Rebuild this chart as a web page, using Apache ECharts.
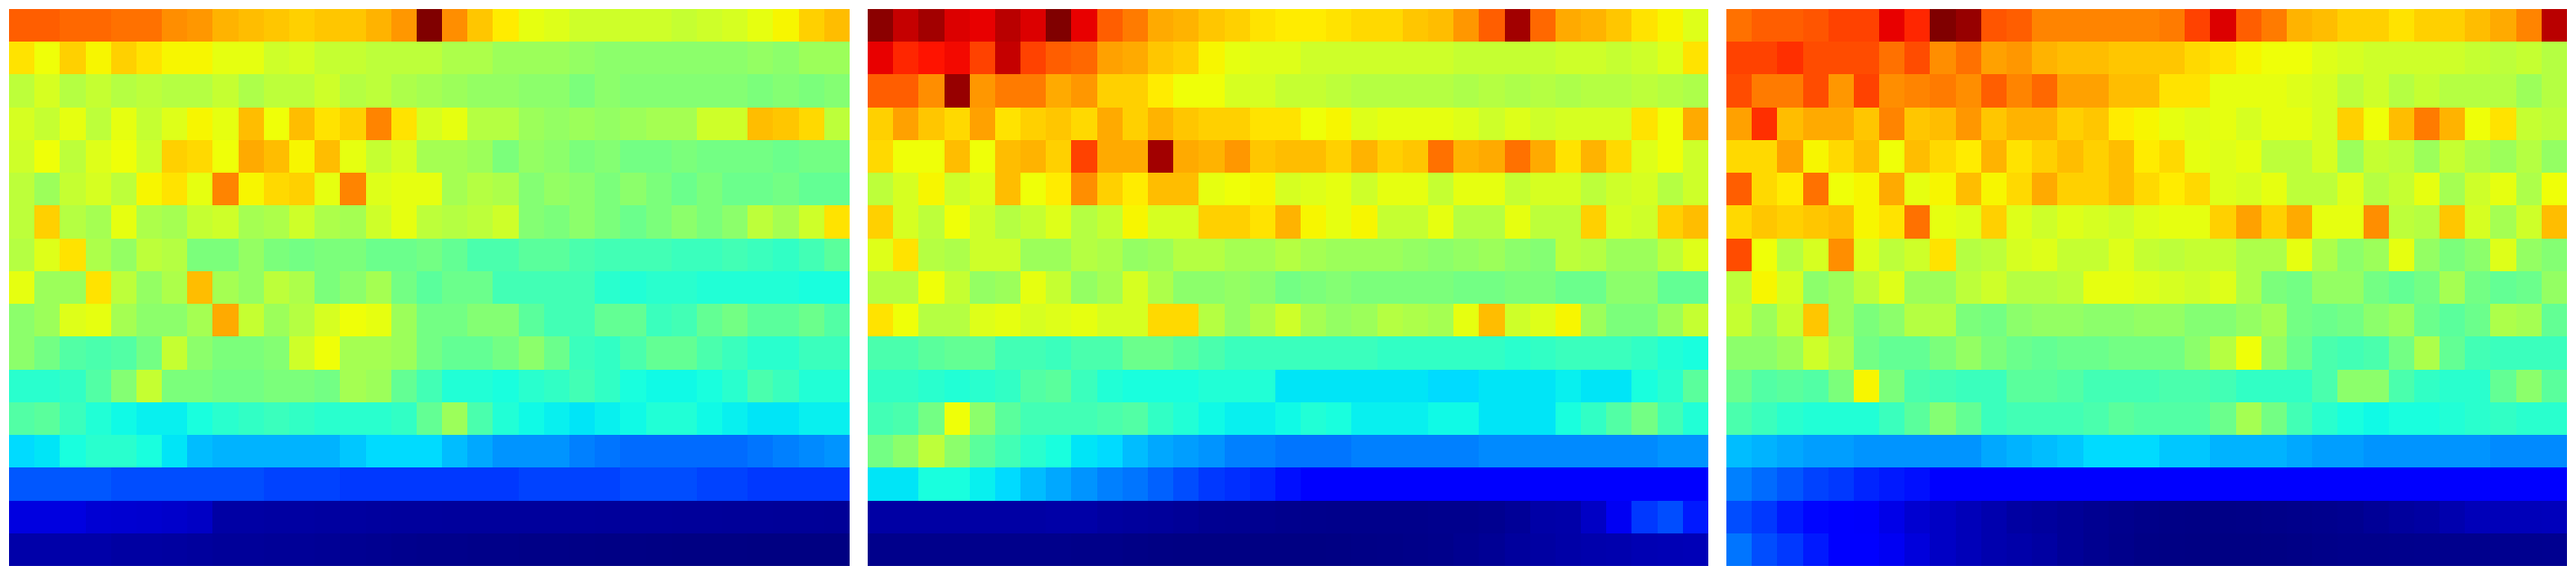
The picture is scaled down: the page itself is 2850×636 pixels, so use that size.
<!DOCTYPE html>
<html><head><meta charset="utf-8">
<style>html,body{margin:0;padding:0;background:#fff}#c{width:2850px;height:636px}</style>
<script src="https://cdn.jsdelivr.net/npm/echarts@6/dist/echarts.min.js"></script>
</head><body><div id="c"></div>
<script>
var panelA = [
[81,81,80,80,79,79,76,75,72,71,70,69,70,70,72,75,100,76,70,66,63,62,60,60,60,60,59,60,61,63,65,69,71],
[67,64,69,65,69,67,65,65,63,63,60,61,59,59,58,58,58,56,56,54,54,54,53,52,52,52,52,52,52,53,52,54,54],
[58,61,57,59,57,58,57,57,59,56,58,58,60,57,58,56,55,54,53,53,52,52,50,52,51,51,51,51,51,50,51,50,51],
[61,59,63,58,63,59,62,65,63,71,64,71,67,69,77,67,61,63,57,57,54,53,54,53,54,55,55,60,60,71,70,68,58],
[60,64,58,62,64,60,69,68,64,73,71,65,71,63,59,61,55,55,54,50,53,52,50,51,49,49,50,49,49,49,48,49,49],
[58,54,59,61,58,65,67,63,77,65,68,69,63,77,62,63,63,55,57,56,51,53,52,50,52,50,48,50,48,48,49,47,47],
[58,69,57,55,63,56,55,59,60,55,56,60,56,55,60,63,58,57,58,60,51,50,52,50,48,50,52,50,52,58,55,60,67],
[57,62,67,56,53,58,57,50,50,53,50,49,50,50,48,48,49,47,44,44,46,46,44,43,43,43,42,42,43,42,41,43,46],
[63,54,54,67,58,53,56,71,55,53,58,56,50,52,55,49,46,48,48,43,43,43,43,40,39,40,40,39,39,39,39,38,38],
[52,54,62,63,55,52,52,55,73,59,54,57,61,64,63,54,49,49,51,51,46,43,43,47,47,42,43,47,49,46,46,48,45],
[52,49,45,44,45,49,59,52,50,50,51,60,64,55,55,54,49,47,47,49,52,48,42,41,44,47,47,44,42,40,40,42,42],
[40,40,41,45,51,59,50,50,49,49,50,50,49,55,54,47,43,39,39,38,40,41,43,41,38,37,37,38,40,44,42,39,39],
[45,46,42,39,37,36,36,38,40,41,42,41,40,40,40,41,47,54,44,39,37,36,35,36,37,39,39,37,36,35,35,36,36],
[34,35,38,40,40,38,35,31,30,30,30,30,30,32,34,34,34,31,29,27,27,27,25,24,23,23,23,23,23,24,25,26,27],
[21,21,21,21,20,20,20,20,20,20,19,19,19,18,18,18,18,18,18,18,19,19,19,19,20,20,20,19,19,18,18,18,18],
[8.3,8.3,8.3,7.2,7,6.8,6.5,6,3.2,3.2,3,3,2.8,2.8,2.7,2.6,2.6,2.5,2.5,2.5,2.5,2.5,2.5,2.4,2.4,2.4,2.3,2.3,2.2,2.2,2.1,2.1,2],
[3.6,3.6,3.5,3.5,3,3,2.8,2.6,2.2,2.2,2,2,1.8,1.6,1.4,1.2,1,1,0.8,0.8,0.7,0.7,0.6,0.5,0.5,0.4,0.3,0.3,0.3,0.2,0.2,0.2,0.2]
];
var panelB = [
[99,94,97,92,91,95,92,100,91,81,78,73,72,70,69,67,66,66,67,68,68,70,71,75,81,97,80,73,72,70,67,65,62],
[91,87,89,90,84,94,84,81,80,74,73,70,69,65,63,62,62,60,60,60,60,60,60,59,59,59,59,60,60,59,60,62,67],
[81,81,76,98,75,78,78,73,75,69,69,66,64,64,61,61,59,59,58,57,57,57,57,56,57,56,57,56,57,57,58,57,56],
[69,74,70,68,74,67,69,70,68,73,69,72,70,69,69,67,67,64,65,62,63,63,63,62,60,62,60,61,61,61,67,64,73],
[68,64,64,71,64,71,72,69,84,73,73,97,73,72,75,70,71,71,69,72,69,70,79,72,73,79,73,67,72,68,62,64,60],
[58,61,65,60,62,71,64,66,76,69,66,71,71,63,64,65,61,62,63,60,63,63,59,63,63,59,61,61,58,60,61,57,60],
[69,61,58,64,60,57,59,62,57,59,65,61,61,69,69,67,72,65,63,65,59,59,63,57,57,63,58,58,69,61,60,69,71],
[62,67,57,56,60,60,54,54,57,56,53,54,57,57,55,55,57,55,54,54,54,53,52,53,54,52,51,58,57,54,54,58,62],
[57,57,64,59,53,54,63,59,53,55,61,56,52,52,53,52,49,50,51,50,50,50,50,49,49,50,50,48,48,52,52,47,47],
[67,64,57,57,62,63,61,62,63,61,61,68,68,57,53,56,60,55,53,54,57,56,55,63,71,60,62,65,54,50,50,54,59],
[44,44,46,47,47,43,43,42,44,44,48,48,46,44,42,42,42,42,42,42,41,41,41,41,41,40,41,42,42,42,41,39,38],
[41,41,40,39,40,41,45,46,42,39,38,38,38,39,39,39,35,35,35,35,35,35,34,34,35,35,35,36,35,35,38,40,46],
[43,44,49,64,52,46,43,43,43,44,45,41,39,37,36,36,37,39,38,36,36,36,37,37,35,35,35,38,41,45,49,43,39],
[49,52,58,52,46,43,40,38,35,34,31,29,28,27,25,25,24,24,24,25,25,25,25,25,26,26,26,26,26,26,26,27,27],
[35,35,38,38,36,34,31,29,27,25,24,22,20,18,17,16,14,12,12,12,12,12,12,12,12,12,12,12,12,12,12,12,12],
[3.2,3.2,3.2,3.2,3.2,3.2,3.2,3.4,3.4,2.8,2.6,2.4,2,1.6,1.5,1.4,1.2,1.1,1,1,1,1,1.2,1.2,1.4,2,3.4,3.6,6,10,18,20,15],
[1,1,1,1,1,1,1,1,0.8,0.8,0.6,0.4,0.3,0.3,0.3,0.3,0.3,0.3,0.4,0.6,0.7,0.8,1,1.4,1.8,2.6,3,3.4,3.8,4,4.4,4.6,4.8]
];
var panelC = [
[79,81,81,82,84,84,91,87,100,98,82,81,77,77,77,77,77,78,84,92,81,78,72,71,69,69,67,69,69,71,73,77,95],
[84,84,86,83,83,83,79,83,76,79,74,75,72,71,71,70,70,70,68,67,65,64,64,62,61,60,60,60,60,59,58,59,57],
[83,78,78,83,75,84,76,77,78,76,81,77,80,74,74,71,71,67,67,63,63,63,62,61,58,60,57,59,57,57,57,54,57],
[74,86,71,73,73,70,77,70,71,75,70,72,72,69,70,66,65,63,62,63,61,63,63,61,69,64,71,78,72,64,67,59,58],
[68,68,74,65,68,71,64,71,68,66,72,67,69,71,69,71,66,68,63,62,63,58,58,61,54,59,58,54,59,56,54,57,53],
[81,68,66,79,64,65,73,63,65,71,65,68,73,69,69,71,68,66,68,62,61,63,58,58,62,57,59,63,55,60,63,56,64],
[68,70,69,70,71,65,67,79,63,62,69,62,60,62,61,60,62,63,63,69,74,69,73,63,63,76,58,57,70,61,55,60,71],
[83,64,57,61,76,62,58,60,67,57,58,61,62,59,59,62,59,58,59,59,56,56,63,56,52,54,63,53,50,52,62,53,51],
[58,65,61,52,54,58,62,54,54,58,60,57,57,58,63,63,62,61,60,62,56,50,49,53,53,49,47,49,55,49,47,48,53],
[59,54,59,70,54,50,52,57,57,50,49,52,53,53,52,52,53,53,51,51,53,55,49,48,49,52,54,48,46,48,56,55,47],
[52,52,54,60,56,49,47,47,50,53,50,48,47,48,48,49,49,49,52,57,64,53,48,44,43,44,49,56,47,43,42,42,42],
[48,45,46,45,50,65,50,44,43,42,42,46,46,45,43,43,43,44,44,43,41,41,41,44,52,52,44,41,40,40,47,52,46],
[44,42,40,39,39,39,42,46,51,47,42,43,43,43,44,46,45,45,45,48,55,49,43,40,38,37,38,38,39,40,41,40,40],
[31,30,29,28,28,27,27,27,27,27,29,30,31,32,34,34,34,32,32,30,30,30,29,28,28,27,27,27,27,27,26,26,26],
[25,23,21,19,18,16,15,14,12,12,12,12,12,12,12,12,12,12,12,12,12,12,12,12,12,12,12,12,12,12,12,12,12],
[20,18,15,13,11.5,10.8,9,7,6,5,4,3,2.6,2,1.5,1.2,0.8,0.6,0.5,0.6,0.7,0.8,1,1.2,1.4,2,2.6,3,4,5,5,5,5.2],
[24,20,18,15,11.5,11,10,8,6,5,4,3.6,3,2,1.4,1,0.6,0.4,0.3,0.3,0.3,0.4,0.6,0.8,1,1,1.1,1.2,1.2,1.2,1.3,1.3,1.4]
];

function jet(v){
  function seg(p){
    for(var i=1;i<p.length;i++){ if(v<=p[i][0]){ var a=p[i-1],b=p[i]; return a[1]+(b[1]-a[1])*(v-a[0])/(b[0]-a[0]); } }
    return p[p.length-1][1];
  }
  var r=seg([[0,0],[.35,0],[.66,1],[.89,1],[1,.5]]);
  var g=seg([[0,0],[.125,0],[.375,1],[.64,1],[.91,0],[1,0]]);
  var b=seg([[0,.5],[.11,1],[.34,1],[.65,0],[1,0]]);
  return 'rgb('+Math.round(r*255)+','+Math.round(g*255)+','+Math.round(b*255)+')';
}
var jetStops=[]; for(var s=0;s<=200;s++) jetStops.push(jet(s/200));

// Pixel-snapped cell: position and size still come from the axes via api.coord / api.size.
function renderCell(params,api){
  var c=api.coord([api.value(0),api.value(1)]);
  var sz=api.size([1,1]);
  var x0=Math.round(c[0]-sz[0]/2), x1=Math.round(c[0]+sz[0]/2);
  var y0=Math.round(c[1]-sz[1]/2), y1=Math.round(c[1]+sz[1]/2);
  return {type:'rect',shape:{x:x0,y:y0,width:x1-x0,height:y1-y0},style:{fill:api.visual('color')},silent:true};
}

var panels=[panelA,panelB,panelC], lefts=[10,960,1910];
var grids=[],xs=[],ys=[],series=[];
panels.forEach(function(rows,k){
  grids.push({left:lefts[k],top:10,width:930,height:616,show:false});
  xs.push({type:'category',gridIndex:k,show:false,data:rows[0].map(function(_,i){return i;})});
  ys.push({type:'category',gridIndex:k,show:false,inverse:true,data:rows.map(function(_,i){return i;})});
  var d=[]; rows.forEach(function(r,y){ r.forEach(function(v,x){ d.push([x,y,v]); }); });
  series.push({type:'custom',xAxisIndex:k,yAxisIndex:k,data:d,renderItem:renderCell,encode:{x:0,y:1},
    progressive:0,animation:false,silent:true});
});
var chart=echarts.init(document.getElementById('c'),null,{renderer:'canvas'});
chart.setOption({animation:false,backgroundColor:'#fff',grid:grids,xAxis:xs,yAxis:ys,
  visualMap:{show:false,type:'continuous',min:0,max:100,dimension:2,seriesIndex:[0,1,2],inRange:{color:jetStops}},
  series:series});
</script></body></html>
